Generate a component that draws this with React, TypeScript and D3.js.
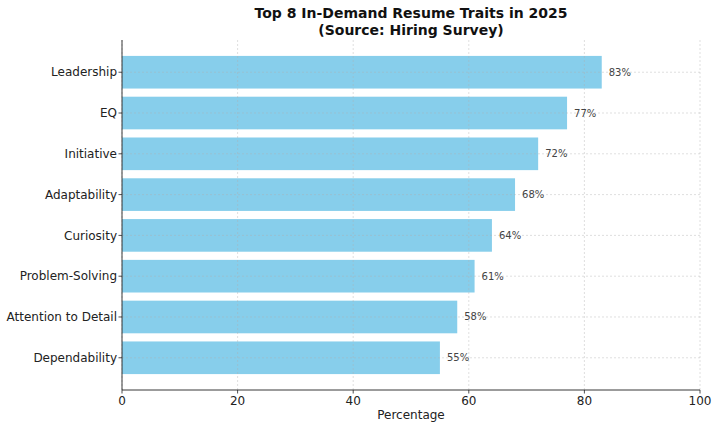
import * as d3 from 'd3';

const traits = [
  'Leadership',
  'EQ',
  'Initiative',
  'Adaptability',
  'Curiosity',
  'Problem-Solving',
  'Attention to Detail',
  'Dependability',
];
const percents = [83, 77, 72, 68, 64, 61, 58, 55];
const xTicks = [0, 20, 40, 60, 80, 100];

const W = 720;
const H = 429;
const margin = { top: 40, right: 20, bottom: 39, left: 122 };

export default function App() {
  const x = d3.scaleLinear().domain([0, 100]).range([margin.left, W - margin.right]);
  const y = d3
    .scaleBand<string>()
    .domain(traits)
    .range([margin.top, H - margin.bottom])
    .paddingInner(0.2)
    .paddingOuter(0.39);
  const font = 'DejaVu Sans, sans-serif';
  const bottom = H - margin.bottom;

  return (
    <svg
      width={W}
      height={H}
      style={{ position: 'absolute', left: 0, top: 0, background: '#fff' }}
      fontFamily={font}
    >
      <text x={411} y={18} textAnchor="middle" fontSize={14} fontWeight="bold" fill="#111">
        Top 8 In-Demand Resume Traits in 2025
      </text>
      <text x={411} y={35} textAnchor="middle" fontSize={14} fontWeight="bold" fill="#111">
        (Source: Hiring Survey)
      </text>

      {traits.map((t, i) => (
        <rect
          key={t}
          x={x(0)}
          y={y(t)}
          width={x(percents[i]) - x(0)}
          height={y.bandwidth()}
          fill="#87CEEB"
        />
      ))}

      {/* grid on top */}
      <g stroke="#b0b0b0" strokeOpacity={0.5} strokeDasharray="2,2" strokeWidth={0.8}>
        {xTicks.map((t) => (
          <line key={t} x1={x(t)} x2={x(t)} y1={margin.top} y2={bottom} />
        ))}
        {traits.map((t) => {
          const cy = (y(t) as number) + y.bandwidth() / 2;
          return <line key={t} x1={x(0)} x2={x(100)} y1={cy} y2={cy} />;
        })}
      </g>

      {traits.map((t, i) => (
        <text
          key={t}
          x={x(percents[i]) + 7}
          y={(y(t) as number) + y.bandwidth() / 2}
          dy="0.35em"
          fontSize={10}
          fill="#444"
        >
          {percents[i]}%
        </text>
      ))}

      <line x1={x(0)} x2={x(0)} y1={margin.top} y2={bottom} stroke="#222" strokeWidth={0.9} />
      <line x1={x(0)} x2={x(100)} y1={bottom} y2={bottom} stroke="#222" strokeWidth={0.9} />

      {traits.map((t) => {
        const cy = (y(t) as number) + y.bandwidth() / 2;
        return (
          <g key={t}>
            <line x1={x(0) - 3.5} x2={x(0)} y1={cy} y2={cy} stroke="#222" strokeWidth={0.8} />
            <text x={x(0) - 5} y={cy} dy="0.35em" textAnchor="end" fontSize={12} fill="#222">
              {t}
            </text>
          </g>
        );
      })}

      {xTicks.map((t) => (
        <g key={t}>
          <line x1={x(t)} x2={x(t)} y1={bottom} y2={bottom + 3.5} stroke="#222" strokeWidth={0.8} />
          <text x={x(t)} y={bottom + 15} textAnchor="middle" fontSize={12} fill="#222">
            {t}
          </text>
        </g>
      ))}

      <text x={411} y={H - 10} textAnchor="middle" fontSize={12} fill="#222">
        Percentage
      </text>
    </svg>
  );
}
